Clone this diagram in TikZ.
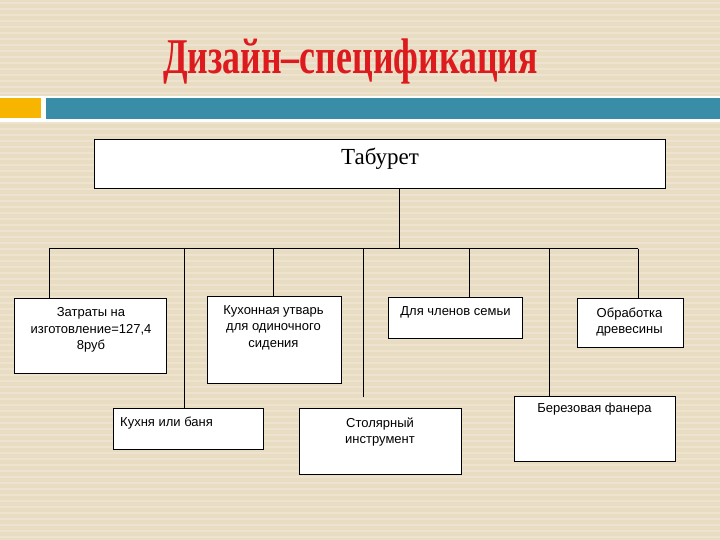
\documentclass[tikz,border=0pt]{standalone}
\usepackage{fontspec}
\usepackage{graphicx}
\setmainfont{Liberation Serif}
\newfontfamily\arialf{Liberation Sans}
\definecolor{bgbeige}{HTML}{E8DCC2}
\definecolor{bgstripe}{HTML}{EDE3CE}
\definecolor{bardark}{HTML}{3A8DA6}
\definecolor{barorange}{HTML}{F8B500}
\definecolor{titlered}{HTML}{DD1A1E}
\tikzset{
  box/.style={draw=black, fill=white, line width=0.8pt, inner sep=0pt, outer sep=0pt},
  boxtext/.style={inner sep=0pt, font=\arialf\fontsize{13}{16.5}\selectfont, align=center, text=black},
  conn/.style={draw=black, line width=0.8pt}
}
\begin{document}
\begin{tikzpicture}[x=1pt,y=-1pt]
\useasboundingbox (0,0) rectangle (720,540);
\fill[bgbeige] (0,0) rectangle (720,540);
\foreach \yy in {3,9,...,537} \draw[bgstripe, line width=1.3pt] (0,\yy) -- (720,\yy);
% bar
\fill[white] (0,96) rectangle (720,122.5);
\fill[barorange] (0,98.5) rectangle (41,118.5);
\fill[bardark] (45.5,98.5) rectangle (720,119.5);
% title
\node[anchor=base, inner sep=0pt, text=titlered] (title) at (350.5,74)
  {\resizebox{375pt}{\height}{\fontsize{50}{50}\selectfont\bfseries Дизайн–спецификация}};
% boxes
\node[box, minimum width=571pt, minimum height=49pt] (tab) at (379.5,163.5) {};
\node[anchor=base, inner sep=0pt, font=\fontsize{23}{23}\selectfont] (tabt) at (380,165) {Табурет};

\node[box, minimum width=152pt, minimum height=75pt] (zat) at (90,335.5) {};
\node[boxtext, anchor=north] (zatt) at (91,307.3) {Затраты на\\изготовление=127,4\\8руб};

\node[box, minimum width=134pt, minimum height=87pt] (kuh) at (274,339.5) {};
\node[boxtext, anchor=north] (kuht) at (273.5,305.3) {Кухонная утварь\\для одиночного\\сидения};

\node[box, minimum width=134pt, minimum height=41pt] (dlya) at (455,317.5) {};
\node[boxtext, anchor=base] (dlyat) at (455.5,315.7) {Для членов семьи};

\node[box, minimum width=106pt, minimum height=49pt] (obr) at (630,322.5) {};
\node[boxtext, anchor=north] (obrt) at (629.5,307.3) {Обработка\\древесины};

\node[box, minimum width=150pt, minimum height=41pt] (kb) at (188,428.5) {};
\node[boxtext, anchor=base west] (kbt) at (120,426.7) {Кухня или баня};

\node[box, minimum width=162pt, minimum height=66pt] (stol) at (380,441) {};
\node[boxtext, anchor=north] (stolt) at (380,417.3) {Столярный\\инструмент};

\node[box, minimum width=161pt, minimum height=65pt] (ber) at (594.5,428.5) {};
\node[boxtext, anchor=base] (bert) at (594.5,412.7) {Березовая фанера};

% connectors
\coordinate (tabdrop) at (399,248.5);
\coordinate (b1) at (49,248.5);
\coordinate (b2) at (184,248.5);
\coordinate (b3) at (273,248.5);
\coordinate (b4) at (363,248.5);
\coordinate (b4end) at (363,397);
\coordinate (b5) at (469,248.5);
\coordinate (b6) at (549,248.5);
\coordinate (b7) at (638,248.5);
\draw[conn] (tab.south -| tabdrop) -- (tabdrop);
\draw[conn] (b1) -- (b7);
\draw[conn] (b1) -- (b1 |- zat.north);
\draw[conn] (b2) -- (b2 |- kb.north);
\draw[conn] (b3) -- (b3 |- kuh.north);
\draw[conn] (b4) -- (b4end);
\draw[conn] (b5) -- (b5 |- dlya.north);
\draw[conn] (b6) -- (b6 |- ber.north);
\draw[conn] (b7) -- (b7 |- obr.north);
\end{tikzpicture}
\end{document}
